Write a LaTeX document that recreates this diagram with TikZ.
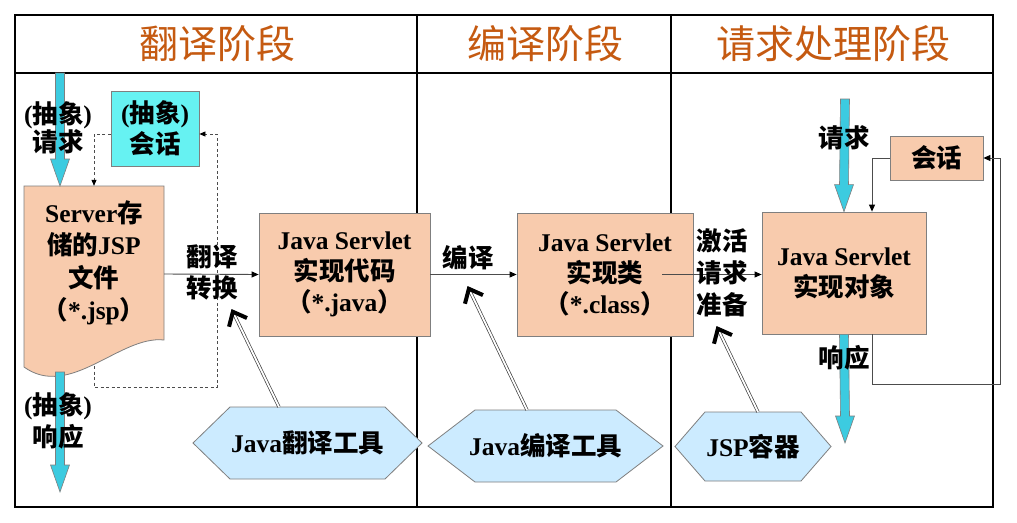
\documentclass[tikz,border=0pt]{standalone}
\usepackage{fontspec}
\setmainfont{Liberation Serif}
\newfontfamily\cjk{Noto Sans CJK SC}
\usetikzlibrary{arrows.meta,calc}
\definecolor{peach}{HTML}{F8CBAD}
\definecolor{cyanbox}{HTML}{66F2F2}
\definecolor{cyanarr}{HTML}{3CCBE0}
\definecolor{hexblue}{HTML}{CCEBFF}
\definecolor{titlec}{HTML}{C55A11}
\definecolor{edgegray}{HTML}{7F7F7F}
\newcommand\zh[1]{{\cjk #1}}
\newcommand\bodyfont{\fontsize{25.5}{31}\selectfont\bfseries}
\newcommand\fatarrow[2]{\filldraw[fatarr] ($(#1)+(-4.5,0)$) -- ($(#2)+(-4.5,-27)$) -- ($(#2)+(-9.5,-27)$) -- (#2) -- ($(#2)+(9.5,-27)$) -- ($(#2)+(4.5,-27)$) -- ($(#1)+(4.5,0)$) -- cycle;}
% name, cx, cy, half width, half height, slant, text
\newcommand\hexa[7]{\filldraw[hexshape] (#2-#4,#3) -- (#2-#4+#6,#3-#5) -- (#2+#4-#6,#3-#5) -- (#2+#4,#3) -- (#2+#4-#6,#3+#5) -- (#2-#4+#6,#3+#5) -- cycle;
 \node[txt] (#1) at (#2,#3) {#7};}
\tikzset{
 frame/.style={line width=2.5pt, draw=black},
 box/.style={draw=edgegray, fill=peach, line width=0.8pt, align=center, inner sep=0pt, font=\bodyfont},
 txt/.style={align=center, inner sep=0pt, font=\bodyfont},
 titletxt/.style={inner sep=0pt, text=titlec, font=\fontsize{39}{44}\selectfont\cjk},
 fatarr/.style={fill=cyanarr, draw=edgegray, line width=0.6pt},
 hexshape/.style={fill=hexblue, draw=edgegray, line width=0.8pt},
 docshape/.style={fill=peach, draw=edgegray, line width=0.8pt},
 conn/.style={draw=black!70, line width=0.9pt, -{Triangle[length=7pt,width=6pt,color=black]}},
 dashconn/.style={draw=black!70, line width=0.8pt, dash pattern=on 3pt off 2.5pt, -{Triangle[length=6pt,width=5pt,color=black]}},
 dbl/.style={draw=black!75, line width=0.7pt, double=white, double distance=1.8pt},
 chev/.style={draw=black, line width=4pt, line join=miter, line cap=butt},
}
\begin{document}
\begin{tikzpicture}[x=1pt,y=-1pt]
\useasboundingbox (0,0) rectangle (1017,522);
\fill[white] (0,0) rectangle (1017,522);
% frame
\draw[frame] (15,15) rectangle (993,507);
\draw[frame] (15,73) -- (993,73);
\draw[frame] (417,15) -- (417,507);
\draw[frame] (671,15) -- (671,507);
% titles
\node[titletxt] (t1) at (217,44) {翻译阶段};
\node[titletxt] (t2) at (545,44) {编译阶段};
\node[titletxt] (t3) at (833,44) {请求处理阶段};
% document shape
\filldraw[docshape] (24,186) -- (164,186) -- (164,340) .. controls (120,335) and (70,400) .. (24,367) -- cycle;
\node[minimum width=140pt, minimum height=176pt, inner sep=0pt] (doc) at (94,274) {};
\node[txt, font=\fontsize{25.5}{32.5}\selectfont\bfseries] (doctxt) at (94,263) {Server\zh{存}\\\zh{储的}JSP\\\zh{文件}\\\zh{（}*.jsp\zh{）}};
% boxes
\node[box, fill=cyanbox, minimum width=88pt, minimum height=75pt] (asess) at (155,128.5) {(\zh{抽象})\\\zh{会话}};
\node[box, minimum width=171pt, minimum height=123pt] (jcode) at (344.5,274.5) {Java Servlet\\\zh{实现代码}\\\zh{（}*.java\zh{）}};
\node[box, minimum width=176pt, minimum height=123pt] (jclass) at (605,274.5) {Java Servlet\\\zh{实现类}\\\zh{（}*.class\zh{）}};
\node[box, minimum width=164pt, minimum height=122pt] (jobj) at (844,273) {Java Servlet\\\zh{实现对象}};
\node[box, minimum width=93pt, minimum height=44pt] (sess) at (936.5,158) {\zh{会话}};
% hexagons
\hexa{h1}{307.5}{443}{114.5}{36}{37}{Java\zh{翻译工具}}
\hexa{h2}{545.5}{446}{117.5}{36}{47}{Java\zh{编译工具}}
\hexa{h3}{753}{446.5}{78}{34.5}{30}{JSP\zh{容器}}
% big cyan arrows
\coordinate (reqtop) at (60,73);
\coordinate (reqtip) at (60,186);
\coordinate (respstart) at (60,372);
\coordinate (resptip) at (60,492);
\coordinate (req2top) at (845,99);
\coordinate (resp2tip) at (845,443);
\fatarrow{reqtop}{reqtip}
\fatarrow{respstart}{resptip}
\fatarrow{req2top}{jobj.north}
\fatarrow{jobj.south}{resp2tip}
% connectors
\draw[conn] (doc.east) -- (jcode.west);
\draw[conn] (jcode.east) -- (jclass.west);
\coordinate (actstart) at ($(jclass.east)+(-31,0)$);
\draw[conn] (actstart) -- (actstart -| jobj.west);
\draw[conn] (sess.west) -| ([xshift=28pt]jobj.north);
\coordinate (loopc) at (1000,384);
\draw[conn] ([xshift=28pt]jobj.south) |- (loopc) |- (sess.east);
% dashed
\draw[dashconn] ([yshift=-5.5pt]asess.west) -| (doc.north);
\coordinate (dstart) at (94,366);
\coordinate (dcorner) at (217,387);
\draw[dashconn] (dstart) |- (dcorner) |- ([yshift=-5.5pt]asess.east);
% double arrows
\coordinate (h1top) at (279,407);
\coordinate (a1tip) at (232,310);
\coordinate (h2top) at (527,410);
\coordinate (a2tip) at (468,287);
\coordinate (h3top) at (758,412);
\coordinate (a3tip) at (717,327);
\foreach \s/\t in {h1top/a1tip,h2top/a2tip,h3top/a3tip}{
 \draw[dbl] (\s) -- ($(\t)!4pt!(\s)$);
 \draw[chev] ($(\t)!17pt!36:(\s)$) -- ($(\t)!2pt!(\s)$) -- ($(\t)!17pt!-36:(\s)$);
}
% labels
\node[txt, font=\fontsize{25.5}{28}\selectfont\bfseries] (lreq) at (58,128) {(\zh{抽象})\\\zh{请求}};
\node[txt, font=\fontsize{25.5}{32}\selectfont\bfseries] (lresp) at (58,421) {(\zh{抽象})\\\zh{响应}};
\node[txt, font=\fontsize{25.5}{31}\selectfont\bfseries] (ltrans) at (212,272) {\zh{翻译}\\\zh{转换}};
\node[txt] (lcomp) at (468,258) {\zh{编译}};
\node[txt, font=\fontsize{25.5}{32}\selectfont\bfseries] (lact) at (722,273) {\zh{激活}\\\zh{请求}\\\zh{准备}};
\node[txt] (lreq2) at (844,138) {\zh{请求}};
\node[txt] (lresp2) at (844,358) {\zh{响应}};
\end{tikzpicture}
\end{document}
